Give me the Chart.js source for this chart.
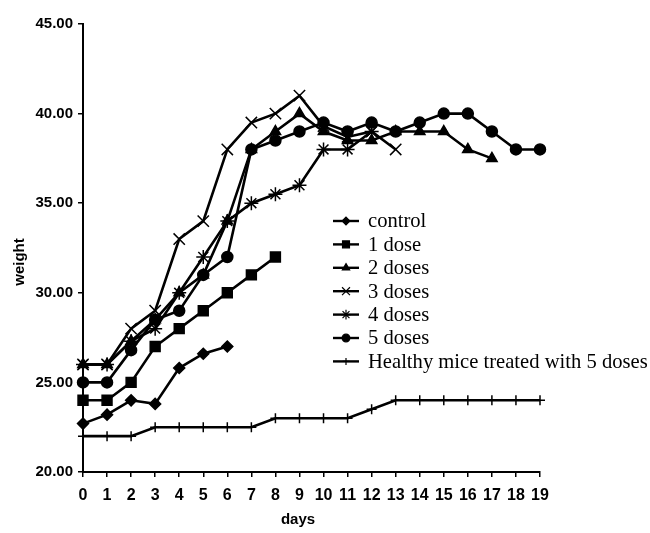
<!DOCTYPE html>
<html>
<head>
<meta charset="utf-8">
<script src="https://cdn.jsdelivr.net/npm/chart.js@4.4.1/dist/chart.umd.min.js"></script>
<style>
  html, body { margin: 0; padding: 0; background: #fff; }
  #wrap { width: 650px; height: 533px; }
</style>
</head>
<body>
<div id="wrap"><canvas id="weights"></canvas></div>
<script>
// data
var days = [0,1,2,3,4,5,6,7,8,9,10,11,12,13,14,15,16,17,18,19];
var control    = [22.7, 23.2, 24.0, 23.8, 25.8, 26.6, 27.0];
var oneDose    = [24, 24, 25, 27, 28, 29, 30, 31, 32];
var twoDoses   = [26, 26, 27.3, 28.5, 30, 31, 34, 38, 39, 40, 39, 38.5, 38.5, 39, 39, 39, 38, 37.5];
var threeDoses = [26, 26, 28, 29, 33, 34, 38, 39.5, 40, 41, 39.3, 38.7, 39, 38];
var fourDoses  = [26, 26, 27.3, 28, 30, 32, 34, 35, 35.5, 36, 38, 38, 39];
var fiveDoses  = [25, 25, 26.8, 28.5, 29, 31, 32, 38, 38.5, 39, 39.5, 39, 39.5, 39, 39.5, 40, 40, 39, 38, 38];
var healthy    = [22, 22, 22, 22.5, 22.5, 22.5, 22.5, 22.5, 23, 23, 23, 23, 23.5, 24, 24, 24, 24, 24, 24, 24];
var yTicks = [20, 25, 30, 35, 40, 45];

var labelFont = 'Liberation Sans';

function series(label, values, style, radius) {
  return {
    label: label,
    data: values,
    borderColor: '#000',
    backgroundColor: '#000',
    borderWidth: 2.6,
    tension: 0,
    pointStyle: style,
    pointRadius: radius,
    pointBorderWidth: 1.5,
    pointBackgroundColor: '#000',
    pointBorderColor: '#000'
  };
}

// legend + axis titles drawn by hand so they sit where the original has them
var sideLegend = {
  id: 'sideLegend',
  afterDraw: function(chart) {
    var ctx = chart.ctx;
    ctx.save();
    ctx.fillStyle = '#000';
    ctx.strokeStyle = '#000';
    chart.data.datasets.forEach(function(ds, i) {
      var y = 221 + i * 23.4;
      ctx.lineWidth = 2.4;
      ctx.beginPath();
      ctx.moveTo(333, y);
      ctx.lineTo(359, y);
      ctx.stroke();
      ctx.lineWidth = 1.2;
      Chart.helpers.drawPoint(ctx, {
        pointStyle: ds.pointStyle,
        radius: ds.pointRadius * 0.7,
        rotation: 0,
        borderWidth: 1.2
      }, 346, y);
      ctx.font = '20.6px "Liberation Serif"';
      ctx.textBaseline = 'middle';
      ctx.textAlign = 'left';
      ctx.fillText(ds.label, 368, y + 1);
    });

    ctx.font = 'bold 15px "' + labelFont + '"';
    ctx.textAlign = 'center';
    ctx.textBaseline = 'middle';
    ctx.fillText('days', 298, 520);
    ctx.translate(20, 262);
    ctx.rotate(-Math.PI / 2);
    ctx.fillText('weight', 0, 0);
    ctx.restore();
  }
};

var ctx = document.getElementById('weights').getContext('2d');
var chart = new Chart(ctx, {
  type: 'line',
  data: {
    labels: days,
    datasets: [
      series('control', control, 'rectRot', 5.5),
      series('1 dose', oneDose, 'rect', 7),
      series('2 doses', twoDoses, 'triangle', 6),
      series('3 doses', threeDoses, 'crossRot', 8),
      series('4 doses', fourDoses, 'star', 7),
      series('5 doses', fiveDoses, 'circle', 5.5),
      series('Healthy mice treated with 5 doses', healthy, 'cross', 5)
    ]
  },
  options: {
    responsive: true,
    maintainAspectRatio: false,
    animation: false,
    layout: { padding: { left: 0, right: 110, top: 24, bottom: 0 } },
    plugins: {
      legend: { display: false },
      tooltip: { enabled: false }
    },
    scales: {
      x: {
        type: 'category',
        offset: false,
        afterFit: function(scale) { scale.height = 61; },
        border: { color: '#000', width: 2 },
        grid: { drawOnChartArea: false, drawTicks: true, tickLength: 5, color: '#000', lineWidth: 1.5 },
        ticks: {
          color: '#000',
          padding: 9,
          maxRotation: 0,
          autoSkip: false,
          font: { family: labelFont, size: 16, weight: 'bold' }
        }
      },
      y: {
        min: 20,
        max: 45,
        afterFit: function(scale) { scale.width = 83; },
        afterBuildTicks: function(scale) {
          scale.ticks = yTicks.map(function(v) { return { value: v }; });
        },
        border: { color: '#000', width: 2 },
        grid: { drawOnChartArea: false, drawTicks: true, tickLength: 5, color: '#000', lineWidth: 1.5 },
        ticks: {
          color: '#000',
          padding: 5,
          font: { family: labelFont, size: 15, weight: 'bold' },
          callback: function(v) { return Number(v).toFixed(2); }
        }
      }
    }
  },
  plugins: [sideLegend]
});
</script>
</body>
</html>
